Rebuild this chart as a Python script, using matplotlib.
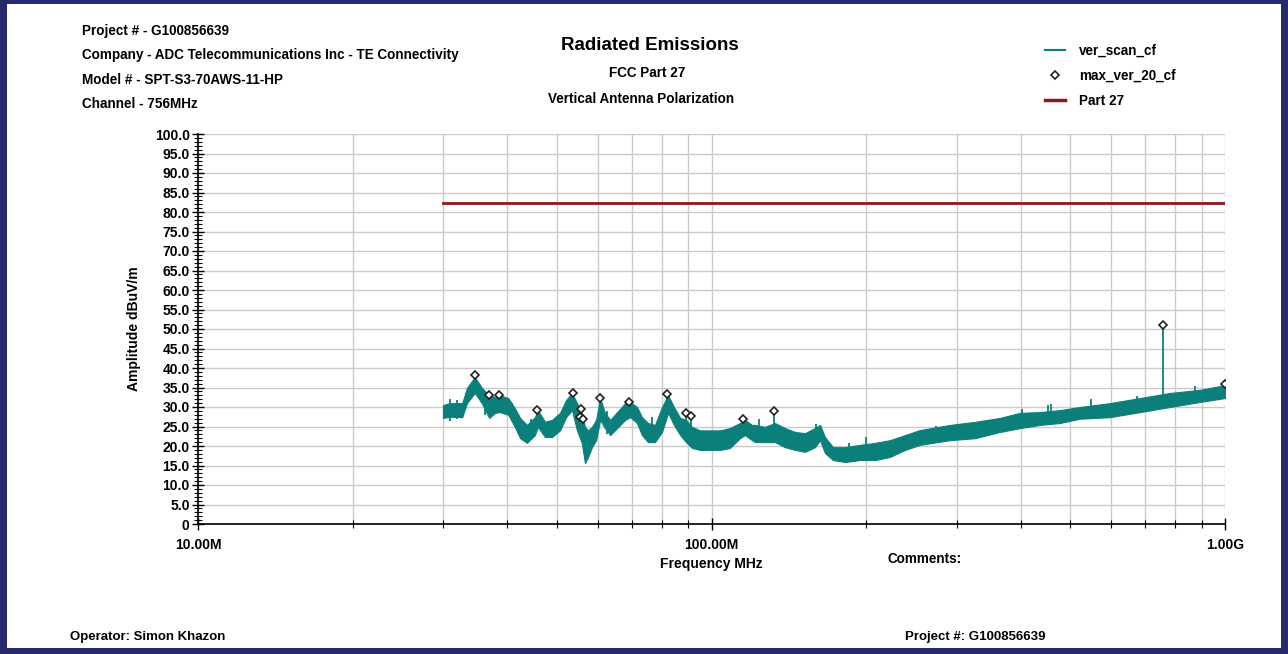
import numpy as np
import matplotlib
matplotlib.use('Agg')
import matplotlib.pyplot as plt
from matplotlib.lines import Line2D
from matplotlib.patches import Rectangle

plt.rcParams['font.family'] = ['Liberation Sans', 'DejaVu Sans']
plt.rcParams['font.weight'] = 'bold'

# scan envelope (MHz, dBuV/m): lower / upper edge of the swept trace
scan_freq = [30.0, 30.95, 32.7, 33.4, 34.6, 35.7, 36.9, 37.9, 38.7, 40.2,
             41.4, 42.4, 43.7, 45.3, 45.9, 47.4, 48.9, 50.7, 52.1, 53.5,
             54.7, 55.9, 56.7, 57.5, 58.5, 59.6, 60.7, 62.0, 63.5, 65.5,
             67.9, 69.4, 71.6, 73.2, 75.2, 77.6, 80.1, 82.3, 84.5, 86.9,
             89.2, 91.6, 95.0, 99.3, 103.9, 108.6, 113.6, 116.2, 119.9, 121.5,
             127.1, 132.9, 139.0, 145.4, 152.1, 159.0, 162.7, 166.3, 172.4, 182.0,
             194.6, 208.2, 222.6, 238.2, 254.7, 291.4, 326.0, 364.6, 398.9, 436.2,
             477.0, 521.8, 597.0, 683.2, 781.4, 894.0, 1000.0]
scan_hi = [30.5, 31.0, 31.0, 34.9, 37.7, 34.9, 33.0, 32.6, 33.0, 32.3,
           29.7, 27.2, 25.4, 27.4, 29.2, 26.2, 26.7, 28.5, 31.8, 33.6,
           31.0, 28.5, 24.9, 24.0, 24.9, 26.7, 32.3, 28.5, 26.7, 28.7,
           31.0, 31.3, 30.0, 27.4, 25.9, 25.4, 30.0, 33.0, 30.0, 27.2,
           26.7, 24.9, 24.0, 24.0, 24.0, 24.6, 25.9, 26.7, 25.4, 25.4,
           24.9, 25.9, 24.6, 23.6, 23.3, 24.6, 25.4, 22.3, 19.7, 19.7,
           20.3, 20.8, 21.5, 22.8, 24.1, 25.4, 26.2, 27.2, 28.5, 28.7,
           29.2, 30.0, 31.0, 32.3, 33.6, 34.4, 35.6]
scan_lo = [27.2, 27.5, 27.4, 31.0, 33.6, 31.0, 27.2, 28.5, 28.7, 28.0,
           24.9, 22.0, 20.8, 22.8, 24.9, 22.3, 22.3, 24.0, 27.4, 29.2,
           24.0, 20.8, 15.6, 17.2, 19.7, 21.5, 26.7, 24.6, 22.8, 24.6,
           26.7, 27.4, 25.9, 22.8, 21.0, 21.0, 23.6, 28.5, 25.4, 22.8,
           21.0, 19.5, 19.0, 19.0, 19.0, 19.5, 22.0, 22.8, 21.5, 21.0,
           21.0, 21.0, 19.7, 19.0, 18.5, 19.7, 21.5, 18.2, 16.4, 15.9,
           16.4, 16.4, 17.2, 19.0, 20.3, 21.5, 22.0, 23.6, 24.6, 25.4,
           25.9, 27.0, 27.4, 28.7, 30.0, 31.3, 32.3]

# short noise spikes sticking out of the trace: freq, foot, tip
noise_freq = [31.0, 32.0, 36.2, 40.9, 44.6, 62.6, 76.5, 105.0, 124.0, 138.0,
              160.0, 185.0, 200.0, 274.0, 402.0, 452.0, 458.0, 548.0, 673.0, 874.0]
noise_lo = [26.5, 27.0, 28.0, 27.5, 22.0, 23.0, 22.0, 20.0, 21.0, 20.0,
            20.0, 16.5, 17.0, 21.0, 25.0, 25.5, 25.5, 27.0, 28.5, 31.0]
noise_hi = [32.0, 31.8, 33.8, 31.0, 27.0, 29.0, 27.5, 23.9, 27.0, 24.1,
            25.6, 20.8, 22.2, 25.1, 29.4, 30.5, 30.8, 32.1, 32.8, 35.4]

# max hold peaks
max_freq = [34.6, 36.9, 38.6, 45.8, 53.7, 55.4, 55.7, 56.2, 60.6, 69.1,
            82.0, 89.2, 91.1, 115.0, 132.3, 757.0, 1000.0]
max_amp = [38.2, 33.0, 33.2, 29.2, 33.7, 27.5, 29.4, 27.0, 32.4, 31.2,
           33.3, 28.5, 27.7, 26.9, 29.0, 51.0, 35.9]
# level where each peak's spike leaves the trace
spike_base = [34.0, 29.0, 30.0, 26.0, 30.0, 24.0, 25.0, 22.0, 28.0, 28.0,
              30.0, 24.0, 23.0, 23.0, 23.0, 31.5, 33.0]

limit_freq = [30.0, 1000.0]
limit_amp = [82.2, 82.2]

freq_ticks = [10, 100, 1000]
freq_tick_labels = ['10.00M', '100.00M', '1.00G']
amp_ticks = list(range(0, 101, 5))
amp_tick_labels = ['0'] + [f'{v:.1f}' for v in amp_ticks[1:]]

teal = '#0b807a'
navy = '#262a6a'
W, H = 1288, 654

fig = plt.figure(figsize=(W / 100, H / 100), dpi=100)
ax = fig.add_axes([198 / W, 1 - 524 / H, (1225 - 198) / W, (524 - 134) / H])

ax.fill_between(scan_freq, scan_lo, scan_hi, color=teal, lw=0.8, zorder=3)
ax.vlines(noise_freq, noise_lo, noise_hi, color=teal, lw=1.3, zorder=3)
ax.vlines(max_freq, spike_base, max_amp, color=teal, lw=1.3, zorder=3)
ax.plot(limit_freq, limit_amp, color='#8b1a1a', lw=2, zorder=4)
ax.plot(max_freq, max_amp, ls='none', marker='D', ms=4, mfc='white',
        mec='#222222', mew=1.2, zorder=5)

ax.set_xscale('log')
ax.set_xlim(10, 1000)
ax.set_ylim(0, 100)
ax.set_xticks(freq_ticks)
ax.set_xticklabels(freq_tick_labels)
ax.set_xticks([m * d for d in (10, 100) for m in range(2, 10)], minor=True)
ax.xaxis.set_minor_formatter(plt.NullFormatter())
ax.set_yticks(amp_ticks)
ax.set_yticklabels(amp_tick_labels)
ax.set_yticks(range(0, 101), minor=True)

ax.tick_params(axis='both', which='major', direction='inout', length=8,
               width=1, labelsize=10)
ax.tick_params(axis='x', which='major', pad=6)
ax.tick_params(axis='y', which='major', pad=2)
ax.tick_params(axis='both', which='minor', direction='inout', length=6, width=0.8)
for lab in ax.get_xticklabels() + ax.get_yticklabels():
    lab.set_fontweight('bold')

ax.grid(True, axis='x', which='both', color='#cacaca', lw=1)
ax.grid(True, axis='y', which='major', color='#cacaca', lw=1)
ax.set_axisbelow(True)
for s in ('top', 'right'):
    ax.spines[s].set_visible(False)
for s in ('left', 'bottom'):
    ax.spines[s].set_linewidth(1.2)

ax.set_ylabel('Amplitude dBuV/m', fontsize=10, fontweight='bold', labelpad=10)
ax.set_xlabel('Frequency MHz', fontsize=10, fontweight='bold', labelpad=4)

# header block
for i, line in enumerate(['Project # - G100856639',
                          'Company - ADC Telecommunications Inc - TE Connectivity',
                          'Model # - SPT-S3-70AWS-11-HP',
                          'Channel - 756MHz']):
    fig.text(82 / W, 1 - (31 + 24.3 * i) / H, line, fontsize=9.75,
             fontweight='bold', va='center', ha='left')

fig.text(650 / W, 1 - 45 / H, 'Radiated Emissions', fontsize=13.5,
         fontweight='bold', ha='center', va='center')
fig.text(647 / W, 1 - 73 / H, 'FCC Part 27', fontsize=9.75,
         fontweight='bold', ha='center', va='center')
fig.text(641 / W, 1 - 99 / H, 'Vertical Antenna Polarization', fontsize=9.75,
         fontweight='bold', ha='center', va='center')

handles = [Line2D([], [], color=teal, lw=1.5),
           Line2D([], [], ls='none', marker='D', ms=4, mfc='white',
                  mec='#222222', mew=1.2),
           Line2D([], [], color='#8b1a1a', lw=2.5)]
fig.legend(handles, ['ver_scan_cf', 'max_ver_20_cf', 'Part 27'],
           loc='upper left', bbox_to_anchor=(1045 / W, 1 - 44 / H),
           frameon=False, borderpad=0, borderaxespad=0, handlelength=1.5,
           handletextpad=1.0, labelspacing=0.8,
           prop={'size': 9.75, 'weight': 'bold'})

fig.text(888 / W, 1 - 559 / H, 'Comments:', fontsize=9.75, fontweight='bold',
         ha='left', va='center')
fig.text(70 / W, 1 - 637 / H, 'Operator: Simon Khazon', fontsize=9.5,
         fontweight='bold', ha='left', va='center')
fig.text(905 / W, 1 - 637 / H, 'Project #: G100856639', fontsize=9.5,
         fontweight='bold', ha='left', va='center')

# page frame
for x0, y0, w, h in [(0, 0, 7, H), (W - 7, 0, 7, H), (0, 0, W, 6), (0, H - 4, W, 4)]:
    fig.add_artist(Rectangle((x0 / W, y0 / H), w / W, h / H,
                             transform=fig.transFigure, color=navy, lw=0))

fig.savefig('out.png', dpi=100)
